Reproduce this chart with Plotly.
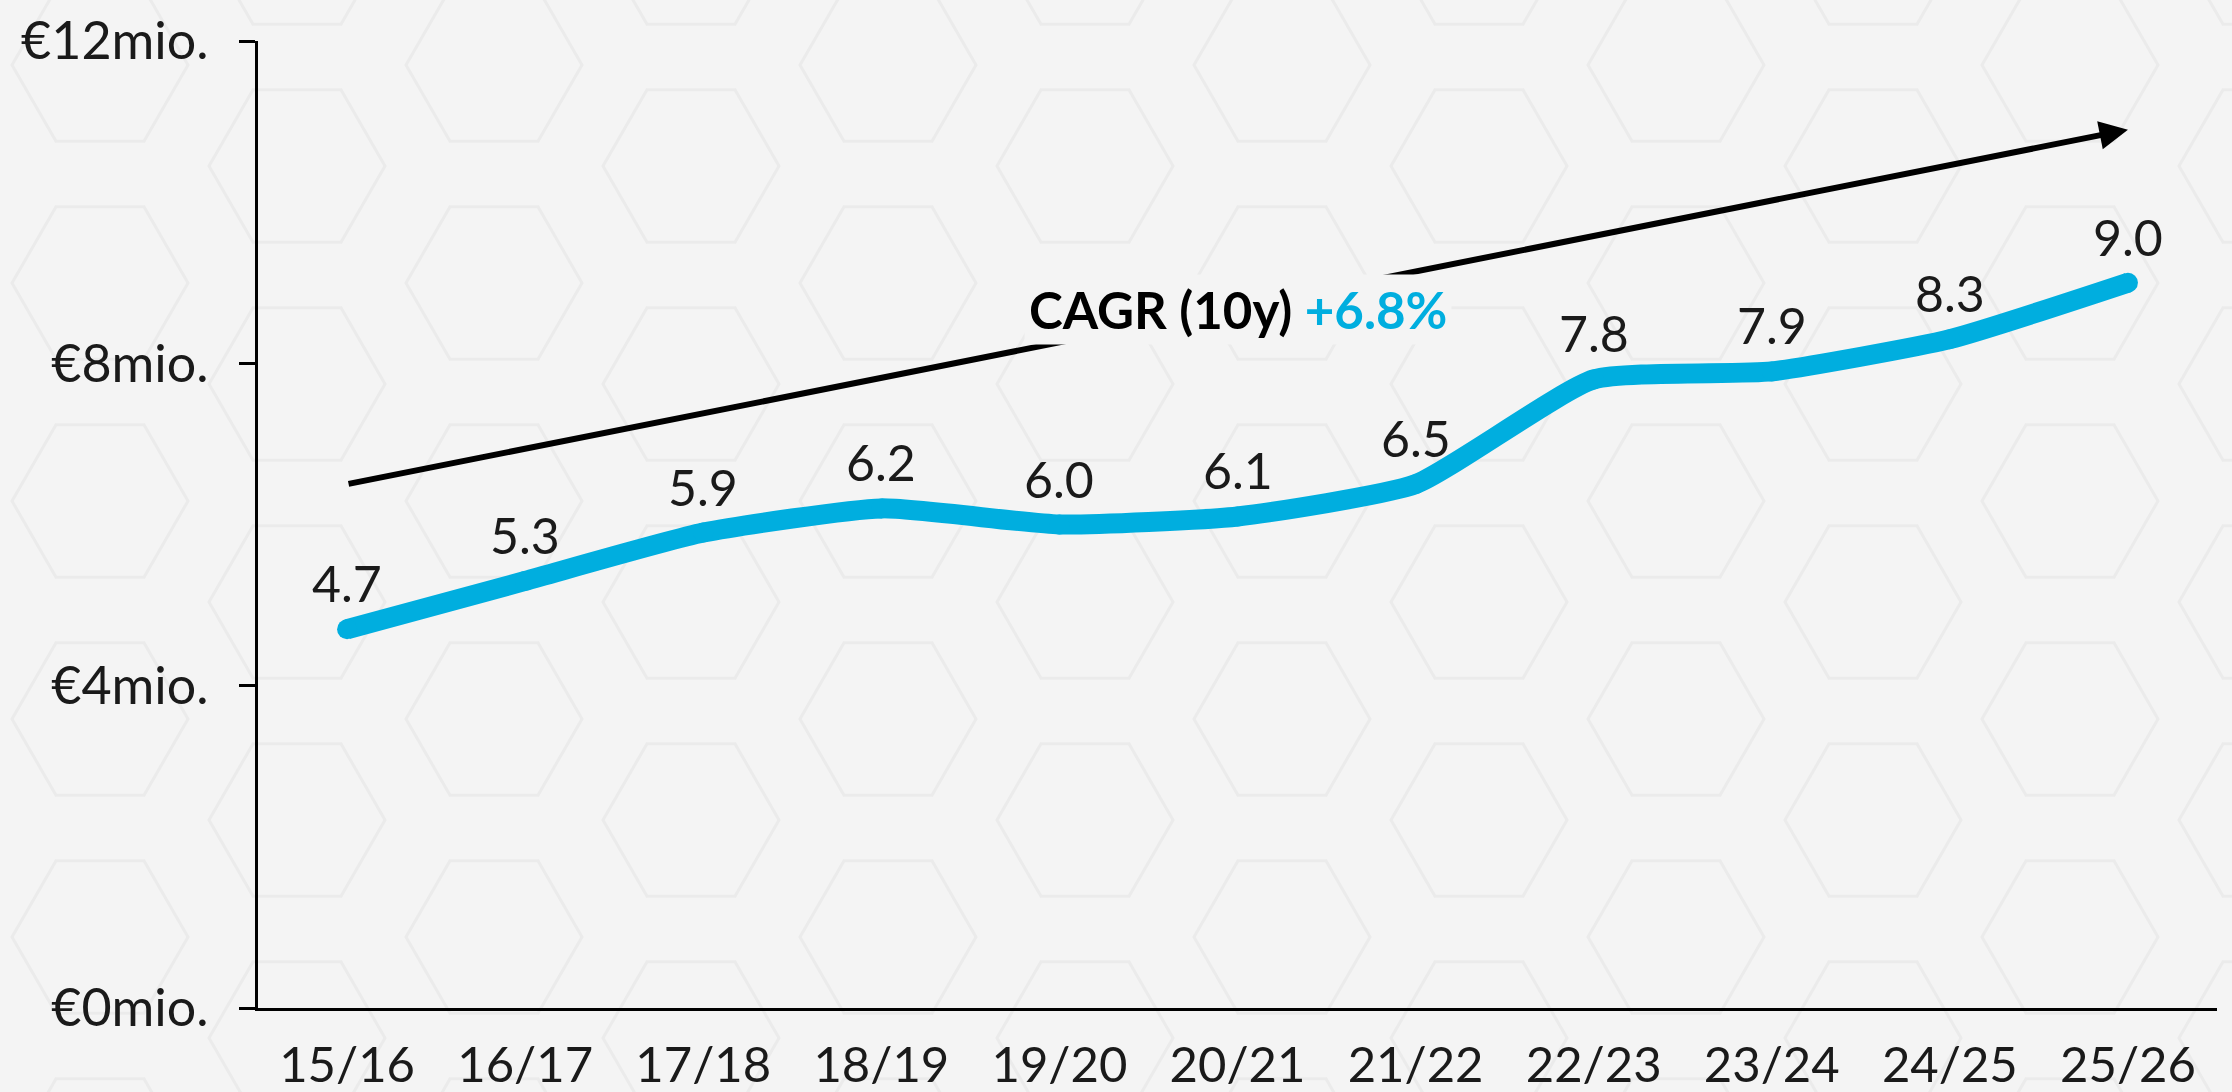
import math
import plotly.graph_objects as go

# ---------------- data ----------------
categories = ["15/16", "16/17", "17/18", "18/19", "19/20", "20/21",
              "21/22", "22/23", "23/24", "24/25", "25/26"]
values = [4.7, 5.3, 5.9, 6.2, 6.0, 6.1, 6.5, 7.8, 7.9, 8.3, 9.0]
y_tickvals = [0, 4, 8, 12]
y_ticktext = ["€0mio.", "€4mio.", "€8mio.", "€12mio."]
cagr_label = "CAGR (10y)"
cagr_value = "+6.8%"
cagr_start = (0, 6.5)      # trend arrow tail (category index, value)
cagr_end = (10, 10.9)      # trend arrow head

# ---------------- layout constants ----------------
W, H = 2232, 1092
ML, MR, MT, MB = 258, 15, 41, 84
PW, PH = W - ML - MR, H - MT - MB
BG = "#f4f4f4"
BLUE = "#00AEDF"
TXT = "#1a1a1a"
FONT = "Lato"


def px_to_paper(px, py):
    return (px - ML) / PW, (H - MB - py) / PH


# faint hexagon background pattern (decoration)
R = 88
col_dx = 197
period = 218
sub = []
for ci in range(-1, 13):
    cx = 100 + ci * col_dx
    y0 = 65 if ci % 2 == 0 else 166
    for ri in range(-2, 7):
        cy = y0 + ri * period
        pts = []
        for k in range(6):
            a = math.radians(60 * k)
            pts.append(px_to_paper(cx + R * math.cos(a), cy + R * math.sin(a)))
        sub.append("M" + " L".join(f"{x:.5f},{y:.5f}" for x, y in pts) + " Z")
hex_path = " ".join(sub)

fig = go.Figure()
fig.add_trace(go.Scatter(
    x=categories, y=values, mode="lines+markers",
    line=dict(color=BLUE, width=20, shape="spline", smoothing=0.5),
    marker=dict(color=BLUE, size=20),
    hoverinfo="skip", showlegend=False,
))

annotations = []
# trend arrow
annotations.append(dict(
    x=cagr_end[0], y=cagr_end[1], xref="x", yref="y",
    ax=cagr_start[0], ay=cagr_start[1], axref="x", ayref="y",
    showarrow=True, arrowhead=2, arrowsize=0.95, arrowwidth=6,
    arrowcolor="black", text="",
))
# CAGR label, centred on the arrow, masking it
mid_x = (cagr_start[0] + cagr_end[0]) / 2
mid_y = (cagr_start[1] + cagr_end[1]) / 2
annotations.append(dict(
    x=mid_x, y=mid_y, xref="x", yref="y", showarrow=False, yshift=-3,
    text=f"<b>{cagr_label} <span style='color:{BLUE}'>{cagr_value}</span></b>",
    font=dict(family=FONT, size=51, color="black"),
    bgcolor=BG, borderpad=4,
))
# data labels
for c, v in zip(categories, values):
    annotations.append(dict(
        x=c, y=v, xref="x", yref="y", showarrow=False,
        text=f"{v:.1f}", yshift=46,
        font=dict(family=FONT, size=50, color=TXT),
    ))

fig.update_layout(
    width=W, height=H,
    margin=dict(l=ML, r=MR, t=MT, b=MB, pad=0, autoexpand=False),
    paper_bgcolor=BG, plot_bgcolor="rgba(0,0,0,0)",
    font=dict(family=FONT, size=50, color=TXT),
    showlegend=False,
    annotations=annotations,
    shapes=[dict(type="path", path=hex_path, xref="paper", yref="paper",
                 line=dict(color="#ebebeb", width=3), layer="below")],
    xaxis=dict(
        type="category", range=[-0.5, 10.5], showgrid=False, zeroline=False,
        showline=True, linecolor="black", linewidth=3, ticks="",
        automargin=False,
        tickfont=dict(family=FONT, size=49, color=TXT), ticklabelstandoff=12,
    ),
    yaxis=dict(
        range=[0, 12], tickvals=y_tickvals, ticktext=y_ticktext,
        showgrid=False, zeroline=False, showline=True, linecolor="black",
        linewidth=3, ticks="outside", ticklen=16, tickwidth=3, tickcolor="black",
        automargin=False,
        tickfont=dict(family=FONT, size=52, color=TXT), ticklabelstandoff=20,
    ),
)

fig.write_html(
    "out.html",
    config={"displayModeBar": False},
    post_script="document.body.style.margin='0';"
                "document.body.style.background='#f4f4f4';",
)
